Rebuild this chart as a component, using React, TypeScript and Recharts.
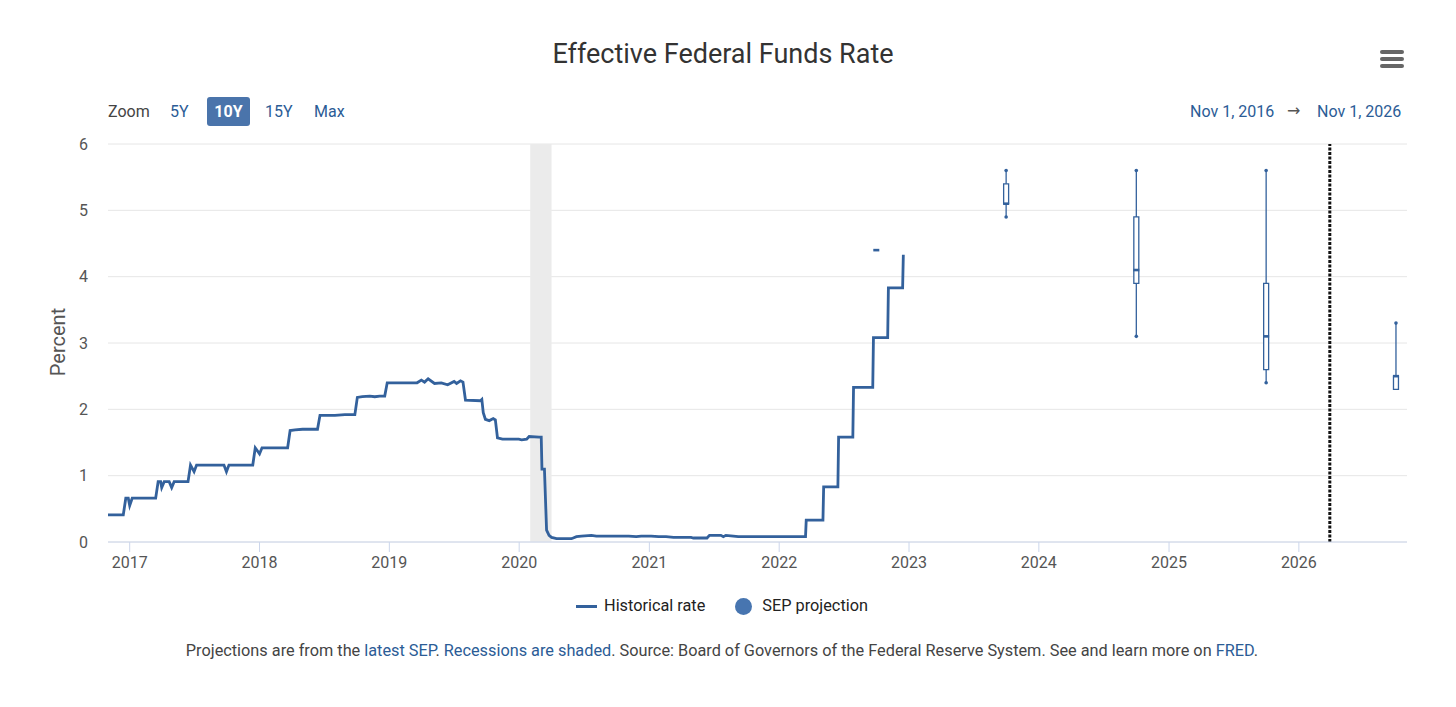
import React from 'react';
import {
  ComposedChart,
  Line,
  Scatter,
  XAxis,
  YAxis,
  CartesianGrid,
  ReferenceArea,
  ReferenceLine,
} from 'recharts';

// historical effective fed funds rate
const histDates = [
  '2016-11-01', '2016-11-16', '2016-11-30', '2016-12-14', '2016-12-21', '2016-12-28',
  '2017-01-01', '2017-01-08', '2017-02-01', '2017-03-01', '2017-03-15', '2017-03-22',
  '2017-03-29', '2017-04-01', '2017-04-08', '2017-04-22', '2017-04-29', '2017-05-06',
  '2017-06-14', '2017-06-21', '2017-07-01', '2017-07-08', '2017-09-23', '2017-09-30',
  '2017-10-07', '2017-12-13', '2017-12-20', '2018-01-01', '2018-01-08', '2018-03-21',
  '2018-03-28', '2018-04-11', '2018-05-02', '2018-06-13', '2018-06-20', '2018-08-01',
  '2018-08-29', '2018-09-26', '2018-10-03', '2018-10-17', '2018-11-07', '2018-11-21',
  '2018-12-05', '2018-12-19', '2018-12-26', '2019-03-20', '2019-04-01', '2019-04-10',
  '2019-04-20', '2019-05-08', '2019-05-27', '2019-06-14', '2019-07-02', '2019-07-09',
  '2019-07-20', '2019-07-27', '2019-08-03', '2019-09-14', '2019-09-18', '2019-09-22',
  '2019-09-28', '2019-10-09', '2019-10-20', '2019-10-26', '2019-11-01', '2019-11-15',
  '2019-12-01', '2019-12-31', '2020-01-08', '2020-01-22', '2020-01-29', '2020-02-26',
  '2020-03-03', '2020-03-05', '2020-03-12', '2020-03-18', '2020-03-25', '2020-04-01',
  '2020-04-15', '2020-05-27', '2020-06-10', '2020-06-24', '2020-07-22', '2020-08-05',
  '2020-09-01', '2020-10-01', '2020-11-04', '2020-11-25', '2020-12-09', '2021-01-06',
  '2021-01-27', '2021-02-17', '2021-03-10', '2021-03-31', '2021-04-28', '2021-05-05',
  '2021-05-19', '2021-06-12', '2021-06-19', '2021-07-21', '2021-07-28', '2021-08-04',
  '2021-08-25', '2021-09-08', '2021-10-06', '2021-11-10', '2021-12-08', '2022-01-12',
  '2022-02-09', '2022-03-16', '2022-03-18', '2022-05-04', '2022-05-06', '2022-06-15',
  '2022-06-17', '2022-07-27', '2022-07-29', '2022-09-21', '2022-09-23', '2022-11-02',
  '2022-11-04', '2022-12-14', '2022-12-16',
];
const histRates = [
  0.41, 0.41, 0.41, 0.41, 0.66, 0.66,
  0.55, 0.66, 0.66, 0.66, 0.66, 0.91,
  0.91, 0.82, 0.91, 0.91, 0.82, 0.91,
  0.91, 1.16, 1.06, 1.16, 1.16, 1.06,
  1.16, 1.16, 1.42, 1.33, 1.42, 1.42,
  1.68, 1.69, 1.70, 1.70, 1.91, 1.91,
  1.92, 1.92, 2.18, 2.19, 2.20, 2.19,
  2.20, 2.20, 2.40, 2.40, 2.44, 2.41,
  2.46, 2.39, 2.40, 2.37, 2.42, 2.39,
  2.43, 2.41, 2.14, 2.13, 2.15, 1.95,
  1.85, 1.83, 1.86, 1.84, 1.57, 1.55,
  1.55, 1.55, 1.54, 1.55, 1.59, 1.58,
  1.58, 1.10, 1.10, 0.18, 0.10, 0.07,
  0.05, 0.05, 0.08, 0.09, 0.10, 0.09,
  0.09, 0.09, 0.09, 0.08, 0.09, 0.09,
  0.08, 0.08, 0.07, 0.07, 0.07, 0.06,
  0.06, 0.06, 0.10, 0.10, 0.08, 0.10,
  0.09, 0.08, 0.08, 0.08, 0.08, 0.08,
  0.08, 0.08, 0.33, 0.33, 0.83, 0.83,
  1.58, 1.58, 2.33, 2.33, 3.08, 3.08,
  3.83, 3.83, 4.33,
];

// SEP projections (Dec 2022): range, central tendency, median
const sepDates = ['2022-10-01', '2023-10-01', '2024-10-01', '2025-10-01', '2026-10-01'];
const sepLow = [4.4, 4.9, 3.1, 2.4, 2.3];
const sepQ1 = [4.4, 5.1, 3.9, 2.6, 2.3];
const sepMedian = [4.4, 5.1, 4.1, 3.1, 2.5];
const sepQ3 = [4.4, 5.4, 4.9, 3.9, 2.5];
const sepHigh = [4.4, 5.6, 5.6, 5.6, 3.3];

const yTicks = [0, 1, 2, 3, 4, 5, 6];
const yearTicks = [2017, 2018, 2019, 2020, 2021, 2022, 2023, 2024, 2025, 2026];
const recession = ['2020-02-01', '2020-04-01'];
const markerDate = '2026-03-29';
const rangeStart = '2016-11-01';
const rangeEnd = '2026-11-01';

const BLUE = '#33619c';
const LINK = '#2b5c96';
const DAY = 86400000;
const BOX_HALF = 7 * DAY;

const ts = (d: string) => Date.parse(d + 'T00:00:00Z');

const lineData = histDates.map((d, i) => ({ t: ts(d), v: histRates[i] }));
const medianData = sepDates.map((d, i) => ({ t: ts(d), v: sepMedian[i] }));
const endData: { t: number; v: number }[] = [];
sepDates.forEach((d, i) => {
  if (sepLow[i] < sepQ1[i]) endData.push({ t: ts(d), v: sepLow[i] });
  if (sepHigh[i] > sepQ3[i]) endData.push({ t: ts(d), v: sepHigh[i] });
});

const Dot = (p: any) => <circle cx={p.cx} cy={p.cy} r={1.8} fill={BLUE} />;
const Median = (p: any) => (
  <rect x={p.cx - 3} y={p.cy - 1.3} width={6} height={2.6} fill={BLUE} />
);

const App = () => {
  return (
    <div
      style={{
        position: 'absolute',
        left: 0,
        top: 0,
        width: 1456,
        height: 707,
        background: '#fff',
        fontFamily: 'Roboto, sans-serif',
      }}
    >
      <div style={{ position: 'absolute', left: 0, top: 0 }}>
        <ComposedChart
          width={1456}
          height={590}
          margin={{ top: 144, right: 49, left: 0, bottom: 18 }}
        >
          <CartesianGrid vertical={false} stroke="#e6e6e6" />
          <ReferenceArea
            x1={ts(recession[0])}
            x2={ts(recession[1])}
            fill="#ebebeb"
            fillOpacity={1}
            stroke="none"
          />
          <XAxis
            type="number"
            dataKey="t"
            domain={[ts(rangeStart), ts(rangeEnd)]}
            ticks={yearTicks.map((y) => ts(`${y}-01-01`))}
            tickFormatter={(v) => String(new Date(v).getUTCFullYear())}
            allowDataOverflow
            height={30}
            stroke="#ccd6eb"
            tickSize={10}
            tickMargin={5}
            tick={{ fill: '#555', fontSize: 16 }}
          />
          <YAxis
            type="number"
            dataKey="v"
            domain={[0, 6]}
            ticks={yTicks}
            width={108}
            axisLine={false}
            tickLine={false}
            tickSize={0}
            tickMargin={20}
            tick={{ fill: '#555', fontSize: 16 }}
          />
          <Line
            data={lineData}
            dataKey="v"
            type="linear"
            stroke={BLUE}
            strokeWidth={2.8}
            dot={false}
            activeDot={false}
            isAnimationActive={false}
          />
          {sepDates.map((d, i) =>
            sepQ3[i] > sepQ1[i] ? (
              <ReferenceArea
                key={'box' + d}
                x1={ts(d) - BOX_HALF}
                x2={ts(d) + BOX_HALF}
                y1={sepQ1[i]}
                y2={sepQ3[i]}
                fill="#fff"
                fillOpacity={1}
                stroke={BLUE}
                strokeWidth={1.3}
              />
            ) : null
          )}
          {sepDates.map((d, i) =>
            sepLow[i] < sepQ1[i] ? (
              <ReferenceLine
                key={'wl' + d}
                segment={[
                  { x: ts(d), y: sepLow[i] },
                  { x: ts(d), y: sepQ1[i] },
                ]}
                stroke={BLUE}
                strokeWidth={1.3}
              />
            ) : null
          )}
          {sepDates.map((d, i) =>
            sepHigh[i] > sepQ3[i] ? (
              <ReferenceLine
                key={'wh' + d}
                segment={[
                  { x: ts(d), y: sepQ3[i] },
                  { x: ts(d), y: sepHigh[i] },
                ]}
                stroke={BLUE}
                strokeWidth={1.3}
              />
            ) : null
          )}
          <ReferenceLine
            x={ts(markerDate)}
            stroke="#111"
            strokeWidth={3}
            strokeDasharray="3 1.5"
          />
          <Scatter data={endData} dataKey="v" shape={Dot} isAnimationActive={false} />
          <Scatter data={medianData} dataKey="v" shape={Median} isAnimationActive={false} />
        </ComposedChart>
      </div>

      <div
        style={{
          position: 'absolute',
          top: 38,
          left: 0,
          width: 1446,
          textAlign: 'center',
          fontSize: 27,
          lineHeight: '32px',
          color: '#333',
        }}
      >
        Effective Federal Funds Rate
      </div>

      {/* menu icon */}
      {[50, 57, 64].map((y) => (
        <div
          key={y}
          style={{
            position: 'absolute',
            left: 1380,
            top: y,
            width: 24,
            height: 3.5,
            borderRadius: 2,
            background: '#666',
          }}
        />
      ))}

      {/* zoom row */}
      <div style={{ position: 'absolute', top: 102, left: 108, fontSize: 16, lineHeight: '20px', color: '#444' }}>
        Zoom
      </div>
      <div style={{ position: 'absolute', top: 102, left: 170, fontSize: 16, lineHeight: '20px', color: LINK }}>
        5Y
      </div>
      <div
        style={{
          position: 'absolute',
          top: 97,
          left: 207,
          width: 43,
          height: 29,
          borderRadius: 3,
          background: '#4a74ab',
          color: '#fff',
          fontSize: 16,
          fontWeight: 700,
          lineHeight: '29px',
          textAlign: 'center',
        }}
      >
        10Y
      </div>
      <div style={{ position: 'absolute', top: 102, left: 265, fontSize: 16, lineHeight: '20px', color: LINK }}>
        15Y
      </div>
      <div style={{ position: 'absolute', top: 102, left: 314, fontSize: 16, lineHeight: '20px', color: LINK }}>
        Max
      </div>

      {/* date range */}
      <div style={{ position: 'absolute', top: 102, left: 1190, fontSize: 16, lineHeight: '20px', color: LINK, whiteSpace: 'nowrap' }}>
        Nov 1, 2016
      </div>
      <div
        style={{
          position: 'absolute',
          top: 101,
          left: 1287,
          fontSize: 16,
          lineHeight: '20px',
          color: '#555',
          fontFamily: '"DejaVu Sans", sans-serif',
        }}
      >
        →
      </div>
      <div style={{ position: 'absolute', top: 102, left: 1317, fontSize: 16, lineHeight: '20px', color: LINK, whiteSpace: 'nowrap' }}>
        Nov 1, 2026
      </div>

      {/* y axis title */}
      <div
        style={{
          position: 'absolute',
          left: 58,
          top: 342,
          transform: 'translate(-50%, -50%) rotate(-90deg)',
          fontSize: 20,
          color: '#555',
          whiteSpace: 'nowrap',
        }}
      >
        Percent
      </div>

      {/* legend */}
      <div
        style={{
          position: 'absolute',
          top: 596,
          left: 0,
          width: 1444,
          display: 'flex',
          justifyContent: 'center',
          alignItems: 'center',
          fontSize: 16.3,
          lineHeight: '20px',
          color: '#222',
        }}
      >
        <span style={{ display: 'inline-block', width: 21, height: 3, background: BLUE, marginRight: 7 }} />
        <span>Historical rate</span>
        <span
          style={{
            display: 'inline-block',
            width: 17,
            height: 17,
            borderRadius: 9,
            background: '#4775b0',
            marginLeft: 30,
            marginRight: 10,
          }}
        />
        <span>SEP projection</span>
      </div>

      {/* footer */}
      <div
        style={{
          position: 'absolute',
          top: 641,
          left: 0,
          width: 1444,
          textAlign: 'center',
          fontSize: 16.3,
          lineHeight: '20px',
          color: '#444',
        }}
      >
        Projections are from the <span style={{ color: LINK }}>latest SEP</span>.{' '}
        <span style={{ color: LINK }}>Recessions are shaded</span>. Source: Board of Governors of the
        Federal Reserve System. See and learn more on <span style={{ color: LINK }}>FRED</span>.
      </div>
    </div>
  );
};

export default App;
